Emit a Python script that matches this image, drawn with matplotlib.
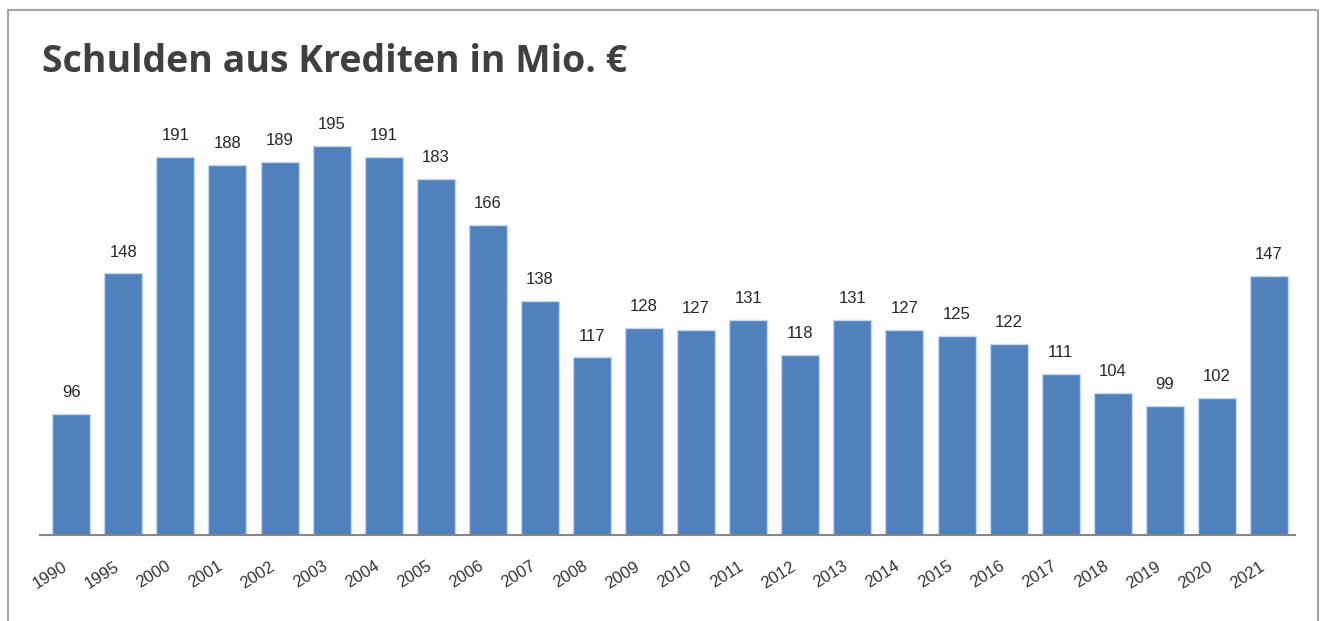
import numpy as np
import matplotlib.pyplot as plt
from matplotlib.patches import Rectangle
from matplotlib import transforms

years = ['1990', '1995', '2000', '2001', '2002', '2003', '2004', '2005', '2006',
         '2007', '2008', '2009', '2010', '2011', '2012', '2013', '2014', '2015',
         '2016', '2017', '2018', '2019', '2020', '2021']
werte = [96, 148, 191, 188, 189, 195, 191, 183, 166, 138, 117, 128, 127, 131,
         118, 131, 127, 125, 122, 111, 104, 99, 102, 147]

plt.rcParams['font.family'] = ['Liberation Sans', 'DejaVu Sans']

fig = plt.figure(figsize=(13.28, 6.21), dpi=100)
fig.patches.append(Rectangle((8/1328, -0.01), 1310/1328, 1 - 10/621 + 0.01,
                             transform=fig.transFigure, fill=False,
                             edgecolor='#a6a6a6', linewidth=1.5))

ax = fig.add_axes([40/1328, (621-535)/621, 1255/1328, 415/621])
x = np.arange(len(years))
ax.bar(x, werte, width=0.73, bottom=0, color='#4f81bd', edgecolor='#c6d7ec',
       linewidth=1.0)
ax.set_xlim(-0.6, 23.5)
ax.set_ylim(51.5, 204.6)

for xi, v in zip(x, werte):
    ax.annotate(str(v), (xi, v), xytext=(0, 10), textcoords='offset points',
                ha='center', va='bottom', fontsize=12, color='#262626')

for s in ['top', 'right', 'left']:
    ax.spines[s].set_visible(False)
ax.spines['bottom'].set_color('#868686')
ax.spines['bottom'].set_linewidth(1.5)
ax.set_yticks([])
ax.set_xticks(x)
ax.set_xticklabels(years, rotation=32, ha='right', rotation_mode='anchor',
                   fontsize=12, color='#333333')
ax.tick_params(axis='x', length=0, pad=17)
off = transforms.ScaledTranslation(-7/72, 0, fig.dpi_scale_trans)
for lab in ax.get_xticklabels():
    lab.set_transform(lab.get_transform() + off)

fig.text(42/1328, 1 - 62/621, 'Schulden aus Krediten in Mio. €', fontsize=27,
         fontweight='bold', color='#404040', va='center', ha='left',
         family=['Open Sans', 'DejaVu Sans'])

plt.savefig('out.png', dpi=100)
